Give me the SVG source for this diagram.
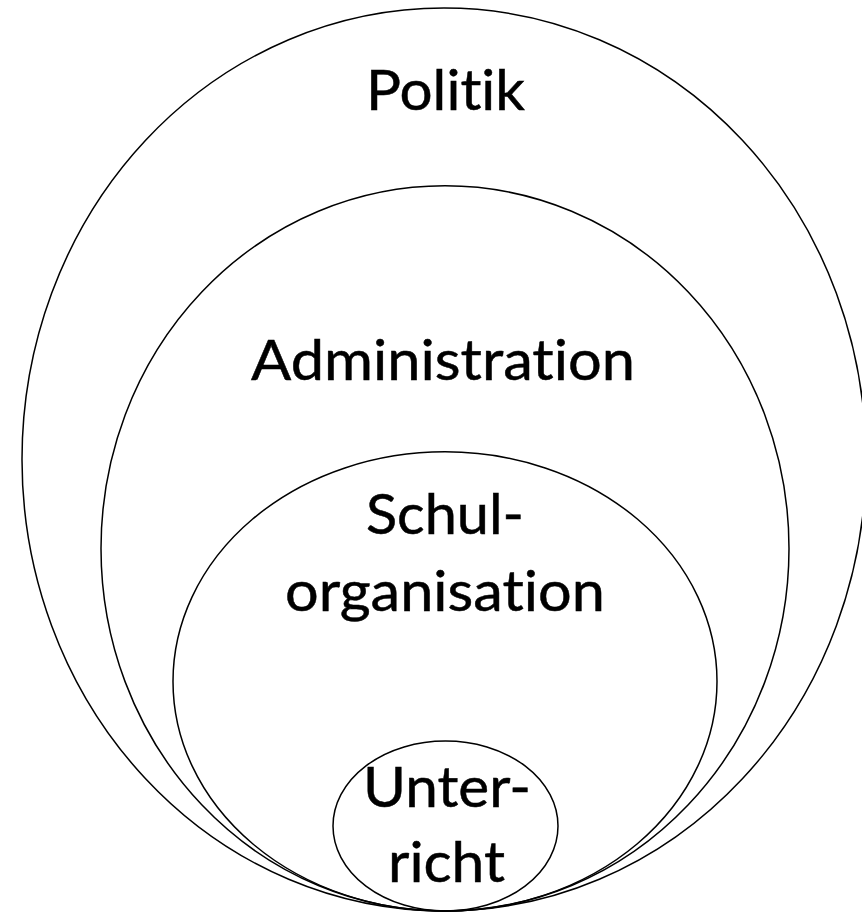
<svg xmlns="http://www.w3.org/2000/svg" width="862" height="914" viewBox="0 0 862 914">
<style>
.ring{fill:none;stroke:#000;stroke-width:1.5}
.lbl{font-family:Lato,"Open Sans","Liberation Sans",sans-serif;font-size:57px;fill:#000;stroke:#000;stroke-width:0.5;text-anchor:middle;font-variant-ligatures:none;font-feature-settings:"liga" 0,"clig" 0}
</style>
<rect width="862" height="914" fill="#fff"/>
<g id="politik">
<ellipse class="ring" cx="444" cy="459.5" rx="422" ry="451.5"/>
<text class="lbl" x="445.5" y="110" textLength="159" lengthAdjust="spacingAndGlyphs">Politik</text>
</g>
<g id="administration">
<ellipse class="ring" cx="445" cy="548.4" rx="344" ry="362.6"/>
<text class="lbl" x="443" y="380" textLength="384" lengthAdjust="spacingAndGlyphs">Administration</text>
</g>
<g id="schulorganisation">
<ellipse class="ring" cx="445" cy="681.4" rx="272" ry="229.6"/>
<text class="lbl" x="445" y="534" textLength="158" lengthAdjust="spacingAndGlyphs">Schul-</text>
<text class="lbl" x="445" y="611" textLength="320" lengthAdjust="spacingAndGlyphs">organisation</text>
</g>
<g id="unterricht">
<ellipse class="ring" cx="445.5" cy="826" rx="112.5" ry="85"/>
<text class="lbl" x="447" y="807" textLength="168" lengthAdjust="spacingAndGlyphs">Unter-</text>
<text class="lbl" x="446.5" y="882" textLength="117" lengthAdjust="spacingAndGlyphs">richt</text>
</g>
<g id="connectors"/>
</svg>
